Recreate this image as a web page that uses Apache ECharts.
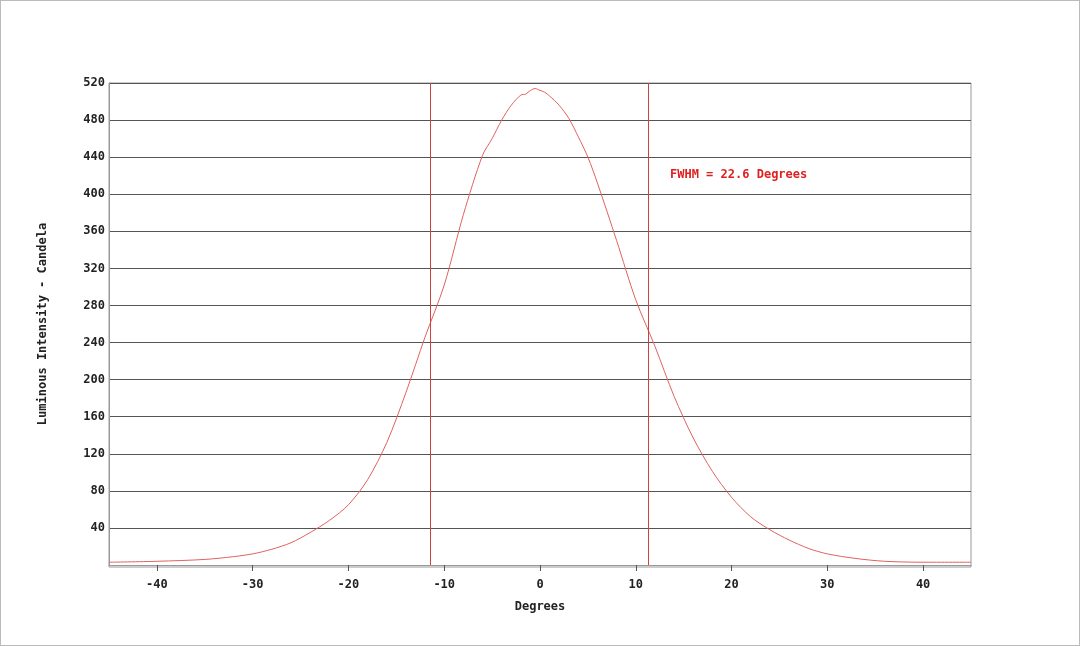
<!DOCTYPE html>
<html>
<head>
<meta charset="utf-8">
<script src="https://cdn.jsdelivr.net/npm/echarts@6/dist/echarts.min.js"></script>
<style>
  html, body { margin: 0; padding: 0; background: #fff; }
  #main { width: 1078px; height: 644px; border: 1px solid #bbb; }
</style>
</head>
<body>
<div id="main"></div>
<script>
var chartDom = document.getElementById('main');
var myChart = echarts.init(chartDom);

// beam profile, degrees vs candela
const degrees = [-45, -40, -35, -32, -30, -28, -26, -24, -22, -20, -18, -16, -14, -12, -10, -8, -6, -5, -4, -3, -2, -1.5, -1, -0.5, 0, 0.5, 1, 2, 3, 4, 5, 6, 8, 10, 12, 14, 16, 18, 20, 22, 24, 26, 28, 30, 33, 36, 40, 45];
const candela = [3, 4, 6, 9, 12, 17, 24, 35, 48, 65, 92, 132, 186, 246, 302, 378, 442, 460, 480, 496, 507, 508, 512, 514, 512, 510, 506, 496, 482, 462, 440, 412, 350, 286, 236, 182, 137, 101, 73, 52, 38, 27, 18, 12, 7, 4, 3, 3];
const fwhmLines = [-11.5, 11.3];
const xTicks = [-40, -30, -20, -10, 0, 10, 20, 30, 40];
const fwhmText = 'FWHM = 22.6 Degrees';

const font = 'DejaVu Sans Mono';

var option = {
    animation: false,
    grid: { left: 108, right: 108, top: 82, bottom: 80 },
    xAxis: {
        type: 'value',
        min: -45,
        max: 45,
        name: 'Degrees',
        nameLocation: 'middle',
        nameGap: 36,
        nameTextStyle: { color: '#222', fontFamily: font, fontSize: 12, fontWeight: 'bold' },
        axisLine: { onZero: false, lineStyle: { color: '#999' } },
        axisTick: { show: true, customValues: xTicks, length: 6, inside: false, lineStyle: { color: '#555' } },
        axisLabel: { customValues: xTicks, color: '#222', fontFamily: font, fontSize: 12, fontWeight: 'bold', margin: 14 },
        splitLine: { show: false }
    },
    yAxis: {
        type: 'value',
        min: 0,
        max: 520,
        interval: 40,
        name: 'Luminous Intensity - Candela',
        nameLocation: 'middle',
        nameGap: 60,
        nameTextStyle: { color: '#222', fontFamily: font, fontSize: 12, fontWeight: 'bold' },
        axisLine: { show: true, onZero: false, lineStyle: { color: '#999' } },
        axisTick: { show: false },
        axisLabel: {
            color: '#222', fontFamily: font, fontSize: 12, fontWeight: 'bold', margin: 4,
            formatter: v => v === 0 ? '' : v
        },
        splitLine: { lineStyle: { color: '#555', width: 1 } }
    },
    graphic: [{
        type: 'rect',
        shape: { x: 108, y: 82, width: 862, height: 484 },
        style: { fill: 'none', stroke: '#999' },
        silent: true
    }, {
        type: 'text',
        left: 669,
        top: 168,
        style: { text: fwhmText, fill: '#e02020', font: 'bold 12px "DejaVu Sans Mono"' }
    }],
    series: [{
        type: 'line',
        data: degrees.map((d, i) => [d, candela[i]]),
        smooth: 0.3,
        showSymbol: false,
        lineStyle: { color: '#e06060', width: 1 },
        markLine: {
            symbol: 'none',
            silent: true,
            label: { show: false },
            lineStyle: { color: '#d04040', width: 1, type: 'solid' },
            data: fwhmLines.map(x => ({ xAxis: x }))
        }
    }]
};

myChart.setOption(option);
</script>
</body>
</html>
